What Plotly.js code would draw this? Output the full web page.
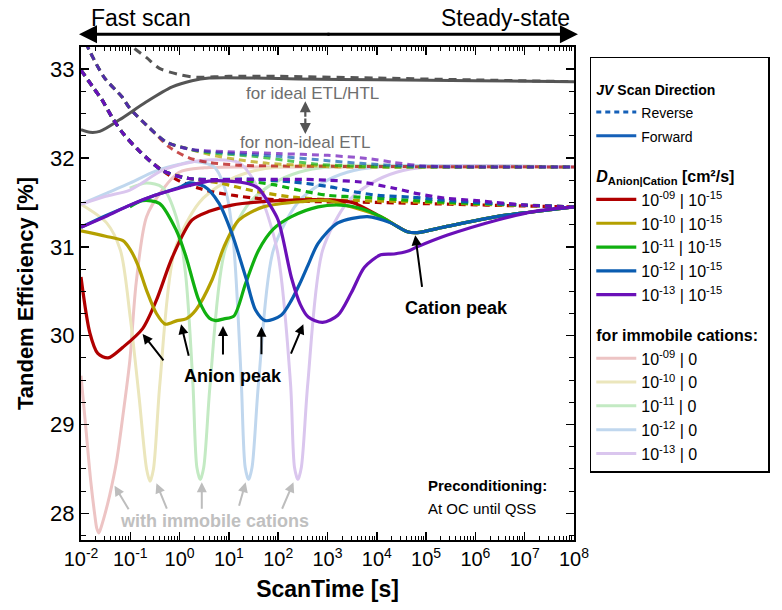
<!DOCTYPE html>
<html><head><meta charset="utf-8">
<script src="https://cdn.plot.ly/plotly-3.0.1.min.js"></script>
<style>body{margin:0;background:#fff}#c{width:782px;height:610px}</style>
</head><body><div id="c"></div>
<script>
// log10(ScanTime [s]) and Tandem efficiency [%]
// --- forward scans, mobile cations (D_cation = 1e-15) ---
const fRedT = [-2,-1.82,-1.66,-1.45,-1.15,-0.75,-0.47,-0.15,0.25,0.6,1.06,2.0,3.0,3.5,4.08,4.62,4.82,5.42,6.43,7.1,8];
const fRedE = [30.66,30.03,29.8,29.75,29.87,30.08,30.4,30.88,31.3,31.4,31.47,31.52,31.53,31.5,31.34,31.17,31.16,31.23,31.34,31.39,31.45];
const fOliT = [-2,-1.5,-1.15,-1.0,-0.85,-0.67,-0.47,-0.29,-0.05,0.13,0.33,0.66,0.9,1.2,1.7,2.5,3.0,3.3,4.08,4.62,4.82,5.42,6.43,7.1,8];
const fOliE = [31.18,31.12,31.07,30.97,30.8,30.51,30.25,30.13,30.17,30.19,30.29,30.63,31.0,31.3,31.45,31.51,31.52,31.48,31.34,31.17,31.16,31.23,31.34,31.39,31.45];
const fGrnT = [-1.01,-0.75,-0.41,-0.07,0.13,0.39,0.6,0.73,0.9,1.1,1.34,1.6,1.9,2.27,2.81,3.27,3.7,4.08,4.62,4.82,5.42,6.43,7.1,8];
const fGrnE = [31.45,31.52,31.49,31.19,30.89,30.4,30.2,30.17,30.19,30.22,30.59,30.96,31.2,31.34,31.45,31.47,31.43,31.34,31.17,31.16,31.23,31.34,31.39,31.45];
const fBluT = [-2,-1.5,-1.0,-0.5,0,0.19,0.5,0.8,1.06,1.34,1.54,1.74,2.06,2.27,2.45,2.61,2.81,3.21,3.81,4.28,4.62,4.82,5.42,6.43,7.1,8];
const fBluE = [31.22,31.35,31.47,31.58,31.67,31.72,31.68,31.49,31.15,30.66,30.29,30.17,30.23,30.4,30.6,30.8,31.04,31.27,31.34,31.27,31.17,31.16,31.23,31.34,31.39,31.45];
const fPurT = [-2,-1.5,-1.01,-0.5,-0.01,0.6,1.0,1.4,1.6,1.8,2.0,2.27,2.45,2.61,2.9,3.21,3.48,3.75,4.08,4.35,4.62,4.82,5.42,6.43,7.2,8];
const fPurE = [31.22,31.34,31.47,31.58,31.66,31.74,31.74,31.71,31.66,31.5,31.3,30.65,30.35,30.21,30.15,30.23,30.48,30.77,30.91,30.92,30.95,31.0,31.13,31.3,31.4,31.45];
// --- reverse scans, mobile cations ---
const rRedT = [-2,-1.76,-1.58,-1.35,-1.15,-0.8,-0.35,0.0,0.39,0.66,1.5,2.75,4,5.5,7,8];
const rRedE = [32.99,32.8,32.66,32.44,32.28,32.07,31.86,31.74,31.66,31.62,31.55,31.51,31.5,31.48,31.46,31.45];
const rOliT = [-2,-1.76,-1.58,-1.35,-1.15,-0.8,-0.35,0.19,0.8,1.5,2.3,3.07,4.5,6,8];
const rOliE = [32.99,32.8,32.66,32.44,32.28,32.07,31.86,31.77,31.72,31.63,31.56,31.53,31.51,31.48,31.45];
const rGrnT = [-2,-1.76,-1.58,-1.35,-1.15,-0.8,-0.35,0.19,1.2,1.9,2.41,3.01,3.67,4.5,5.5,7,8];
const rGrnE = [32.99,32.8,32.66,32.44,32.28,32.07,31.86,31.77,31.75,31.7,31.64,31.58,31.56,31.53,31.5,31.47,31.45];
const rBluT = [-2,-1.76,-1.58,-1.35,-1.15,-0.8,-0.35,0.19,1.5,2.3,3.01,3.54,4.02,4.68,5.5,7,8];
const rBluE = [32.99,32.8,32.66,32.44,32.28,32.07,31.86,31.77,31.76,31.73,31.68,31.62,31.58,31.56,31.52,31.47,31.45];
const rPurT = [-2,-1.76,-1.58,-1.35,-1.15,-0.8,-0.35,0.19,1.5,2.5,3.01,3.67,4.35,4.82,5.36,6.03,7.03,8];
const rPurE = [32.99,32.8,32.66,32.44,32.28,32.07,31.86,31.77,31.76,31.76,31.75,31.73,31.66,31.6,31.55,31.52,31.47,31.45];
// --- reverse scans, immobile cations ---
const iRevRedT = [-2,-1.82,-1.52,-1.17,-1.01,-0.67,-0.45,-0.2,0.2,0.6,1.2,2.0,8];
const iRevRedE = [33.42,33.2,32.9,32.69,32.56,32.37,32.25,32.12,32.0,31.95,31.92,31.91,31.9];
const iRevOliT = [-2,-1.82,-1.52,-1.17,-1.01,-0.67,-0.27,0.2,0.6,1.2,1.8,2.5,3.2,8];
const iRevOliE = [33.42,33.2,32.9,32.69,32.56,32.37,32.18,32.1,32.04,31.98,31.94,31.92,31.9,31.9];
const iRevGrnT = [-2,-1.82,-1.52,-1.17,-1.01,-0.67,-0.27,0.2,0.6,1.5,2.2,2.8,3.5,4.2,8];
const iRevGrnE = [33.42,33.2,32.9,32.69,32.56,32.37,32.18,32.1,32.06,32.02,31.97,31.93,31.91,31.9,31.9];
const iRevBluT = [-2,-1.82,-1.52,-1.17,-1.01,-0.67,-0.27,0.2,0.6,2.0,3.01,3.67,4.62,5.5,8];
const iRevBluE = [33.42,33.2,32.9,32.69,32.56,32.37,32.18,32.1,32.07,32.02,31.97,31.94,31.91,31.9,31.9];
const iRevPurT = [-2,-1.82,-1.52,-1.17,-1.01,-0.67,-0.27,0.2,0.6,2.0,3.01,3.88,4.35,4.96,6,8];
const iRevPurE = [33.42,33.2,32.9,32.69,32.56,32.37,32.18,32.1,32.08,32.05,32.03,31.99,31.95,31.91,31.9,31.9];
// --- forward scans, immobile cations ---
const iRedT = [-2,-1.9,-1.8,-1.72,-1.68,-1.64,-1.6,-1.52,-1.42,-1.28,-1.15,-1.01,-0.88,-0.67,-0.35,-0.01,0.5,1.5,8];
const iRedE = [29.55,28.95,28.35,27.98,27.83,27.78,27.83,27.98,28.2,28.58,29.1,29.72,30.6,31.34,31.64,31.84,31.89,31.9,31.9];
const iOliT = [-2,-1.48,-1.2,-1.0,-0.82,-0.67,-0.6,-0.53,-0.4,-0.1,0.4,0.9,1.4,2.0,8];
const iOliE = [31.48,31.27,30.96,30.2,29.3,28.5,28.36,28.5,29.46,30.96,31.5,31.72,31.84,31.9,31.9];
const iGrnT = [-1.01,-0.67,-0.35,-0.07,0.12,0.27,0.35,0.42,0.49,0.62,0.92,1.42,1.92,2.42,3.0,8];
const iGrnE = [31.66,31.72,31.67,31.34,30.7,29.46,28.52,28.38,28.52,29.46,30.96,31.5,31.72,31.84,31.9,31.9];
const iBluT = [-2,-1.5,-1.0,-0.5,0,0.3,0.7,0.95,1.1,1.25,1.33,1.4,1.47,1.6,1.9,2.4,2.9,3.4,4.0,8];
const iBluE = [31.48,31.6,31.72,31.85,31.93,31.96,31.9,31.6,31.0,29.5,28.52,28.38,28.52,29.46,30.96,31.5,31.72,31.84,31.9,31.9];
const iPurT = [-2,-1.5,-1.01,-0.35,0.2,0.66,1.2,1.55,1.98,2.25,2.33,2.4,2.47,2.6,2.9,3.4,3.9,4.4,5.0,8];
const iPurE = [31.48,31.57,31.64,31.86,31.95,31.98,31.95,31.7,30.96,29.46,28.52,28.38,28.52,29.46,30.96,31.5,31.72,31.84,31.9,31.9];
// --- ideal ETL/HTL ---
const gFwdT = [-2,-1.82,-1.62,-1.22,-0.68,-0.15,0.25,0.6,1.5,2.41,4,6,8];
const gFwdE = [32.32,32.29,32.3,32.43,32.63,32.8,32.87,32.9,32.9,32.89,32.88,32.87,32.86];
const gRevT = [-1.1,-0.95,-0.67,-0.41,-0.01,0.33,1.0,2.0,4,6,8];
const gRevE = [33.35,33.25,33.13,33.01,32.94,32.91,32.92,32.92,32.9,32.88,32.86];

const dLabels = ['10<sup>-09</sup> | 10<sup>-15</sup>','10<sup>-10</sup> | 10<sup>-15</sup>','10<sup>-11</sup> | 10<sup>-15</sup>','10<sup>-12</sup> | 10<sup>-15</sup>','10<sup>-13</sup> | 10<sup>-15</sup>'];
const iLabels = ['10<sup>-09</sup> | 0','10<sup>-10</sup> | 0','10<sup>-11</sup> | 0','10<sup>-12</sup> | 0','10<sup>-13</sup> | 0'];
const xTickExp = [-2,-1,0,1,2,3,4,5,6,7,8];

const dark = ['#b00000','#b4a000','#10b010','#0a5cb0','#6a10b8'];
const light = ['#edc4c4','#ebe6bc','#c3eac3','#c0d7ee','#dac6ee'];
const tx = a => a.map(v => Math.pow(10, v));
const FONT = 'Liberation Sans, Arial, sans-serif';

const fwd = [[fRedT,fRedE],[fOliT,fOliE],[fGrnT,fGrnE],[fBluT,fBluE],[fPurT,fPurE]];
const rev = [[rRedT,rRedE],[rOliT,rOliE],[rGrnT,rGrnE],[rBluT,rBluE],[rPurT,rPurE]];
const irev = [[iRevRedT,iRevRedE],[iRevOliT,iRevOliE],[iRevGrnT,iRevGrnE],[iRevBluT,iRevBluE],[iRevPurT,iRevPurE]];
const ifwd = [[iRedT,iRedE],[iOliT,iOliE],[iGrnT,iGrnE],[iBluT,iBluE],[iPurT,iPurE]];

const traces = [];
const sp = {shape:'spline', smoothing:0.8};
ifwd.forEach((s,i)=>traces.push({x:tx(s[0]), y:s[1], mode:'lines', name:iLabels[i],
  line:Object.assign({color:light[i], width:3}, sp), legendgroup:'imm', legendrank:20+i,
  legendgrouptitle:{text:'<b>for immobile cations:</b>', font:{size:16, family:FONT, color:'#000'}}}));
irev.forEach((s,i)=>traces.push({x:tx(s[0]), y:s[1], mode:'lines', showlegend:false, opacity:0.7,
  line:Object.assign({color:dark[i], width:3, dash:'7px,5px'}, sp)}));
traces.push({x:tx(gFwdT), y:gFwdE, mode:'lines', showlegend:false, line:Object.assign({color:'#555', width:3}, sp)});
traces.push({x:tx(gRevT), y:gRevE, mode:'lines', showlegend:false, line:Object.assign({color:'#555', width:3, dash:'8px,6px'}, sp)});
rev.forEach((s,i)=>traces.push({x:tx(s[0]), y:s[1], mode:'lines', showlegend:false,
  line:Object.assign({color:dark[i], width:3.2, dash:'7px,5px'}, sp)}));
fwd.forEach((s,i)=>traces.push({x:tx(s[0]), y:s[1], mode:'lines', name:dLabels[i],
  line:Object.assign({color:dark[i], width:3.2}, sp), legendgroup:'mob', legendrank:10+i,
  legendgrouptitle:{text:'<b><i>D</i><sub>Anion|Cation</sub> [cm²/s]</b>', font:{size:16, family:FONT, color:'#000'}}}));
traces.push({x:[null], y:[null], mode:'lines', name:'<span style="font-size:14px">Reverse</span>', legendgroup:'dir', legendrank:1,
  line:{color:'#1560b8', width:3, dash:'5px,4px'},
  legendgrouptitle:{text:'<b><i>JV</i> Scan Direction</b>', font:{size:14, family:FONT, color:'#000'}}});
traces.push({x:[null], y:[null], mode:'lines', name:'<span style="font-size:14px">Forward</span>', legendgroup:'dir', legendrank:2,
  line:{color:'#1560b8', width:3}});

const ann = [];
const addArrow = (x,y,ax,ay,color,w) => ann.push({x:x, y:y, xref:'x', yref:'y', ax:ax, ay:ay, text:'', showarrow:true,
  arrowhead:2, arrowsize:1, arrowwidth:w, arrowcolor:color});
// anion peak arrows
[[-0.75,30.02,22,28],[0.03,30.13,8,33],[0.88,30.11,0,30],[1.66,30.1,0,29],[2.51,30.13,-13,31]].forEach(a=>addArrow(a[0],a[1],a[2],a[3],'#000',2));
// cation peak arrow
addArrow(4.78,31.13,7,53,'#000',2);
// immobile arrows
[[-1.32,28.31,15,25],[-0.47,28.34,11,27],[0.45,28.35,0,28],[1.34,28.35,-7,25],[2.31,28.35,-12,28]].forEach(a=>addArrow(a[0],a[1],a[2],a[3],'#bdbdbd',2));
// ideal/non-ideal double arrow
addArrow(2.55,32.64,0,17,'#555',2.2);
addArrow(2.55,32.27,0,-17,'#555',2.2);
const txt = (x,y,t,size,color,anchor) => ann.push({x:x, y:y, xref:'x', yref:'y', text:t, showarrow:false,
  xanchor:anchor||'center', yanchor:'middle', font:{size:size, color:color, family:FONT}});
txt(2.69,32.73,'for ideal ETL/HTL',17,'#6e6e6e');
txt(2.55,32.18,'for non-ideal ETL',17,'#6e6e6e');
txt(1.08,29.55,'<b>Anion peak</b>',18,'#000');
txt(5.61,30.31,'<b>Cation peak</b>',18,'#000');
txt(0.7,27.91,'<b>with immobile cations</b>',18,'#c0c0c0');
txt(5.0,28.31,'<b>Preconditioning:</b>',15,'#000','left');
txt(5.0,28.06,'At OC until QSS',15,'#000','left');
// top annotation
ann.push({xref:'paper', yref:'paper', x:0.016, y:1.059, text:'Fast scan', showarrow:false, xanchor:'left', yanchor:'middle', font:{size:23, family:FONT, color:'#000'}});
ann.push({xref:'paper', yref:'paper', x:0.996, y:1.059, text:'Steady-state', showarrow:false, xanchor:'right', yanchor:'middle', font:{size:23, family:FONT, color:'#000'}});
ann.push({xref:'paper', yref:'paper', x:-0.004, y:1.026, ax:252, ay:0, text:'', showarrow:true, arrowhead:2, arrowsize:1.2, arrowwidth:3, arrowcolor:'#000'});
ann.push({xref:'paper', yref:'paper', x:1.008, y:1.026, ax:-252, ay:0, text:'', showarrow:true, arrowhead:2, arrowsize:1.2, arrowwidth:3, arrowcolor:'#000'});

const minorX = [];
for (let e=-2; e<8; e++) for (let d=2; d<=9; d++) minorX.push(d*Math.pow(10,e));

const layout = {
  width:782, height:610, margin:{l:81, r:204, t:47, b:70},
  paper_bgcolor:'#fff', plot_bgcolor:'#fff', font:{family:FONT, color:'#000'},
  showlegend:true,
  xaxis:{type:'log', range:[-2,8], tickmode:'array', tickvals:tx(xTickExp),
    ticktext:xTickExp.map(e=>'10<sup>'+e+'</sup>'), tickfont:{size:20, family:FONT},
    ticks:'inside', ticklen:8, tickwidth:1.5, tickcolor:'#000', showline:true, linewidth:2, linecolor:'#000', mirror:'ticks',
    showgrid:false, zeroline:false,
    minor:{tickmode:'array', tickvals:minorX, ticks:'inside', ticklen:4, tickwidth:1, tickcolor:'#000', showgrid:false},
    title:{text:'<b>ScanTime [s]</b>', font:{size:23, family:FONT}, standoff:12}},
  yaxis:{range:[27.7,33.25], dtick:1, tick0:0, tickfont:{size:22, family:FONT},
    ticks:'inside', ticklen:8, tickwidth:1.5, tickcolor:'#000', showline:true, linewidth:2, linecolor:'#000', mirror:'ticks',
    showgrid:false, zeroline:false,
    minor:{dtick:0.25, ticks:'inside', ticklen:5, tickwidth:1, tickcolor:'#000', showgrid:false},
    title:{text:'<b>Tandem Efficiency [%]</b>', font:{size:22, family:FONT}, standoff:10}},
  legend:{x:1.032, y:0.98, xanchor:'left', yanchor:'top', bordercolor:'#000', borderwidth:1.5, bgcolor:'#fff',
    font:{size:16, family:FONT, color:'#000'}, itemwidth:40, tracegroupgap:16, traceorder:'grouped',
    title:{text:' ', font:{size:12}}},
  annotations:ann
};
Plotly.newPlot('c', traces, layout, {displayModeBar:false, staticPlot:true});
</script></body></html>
